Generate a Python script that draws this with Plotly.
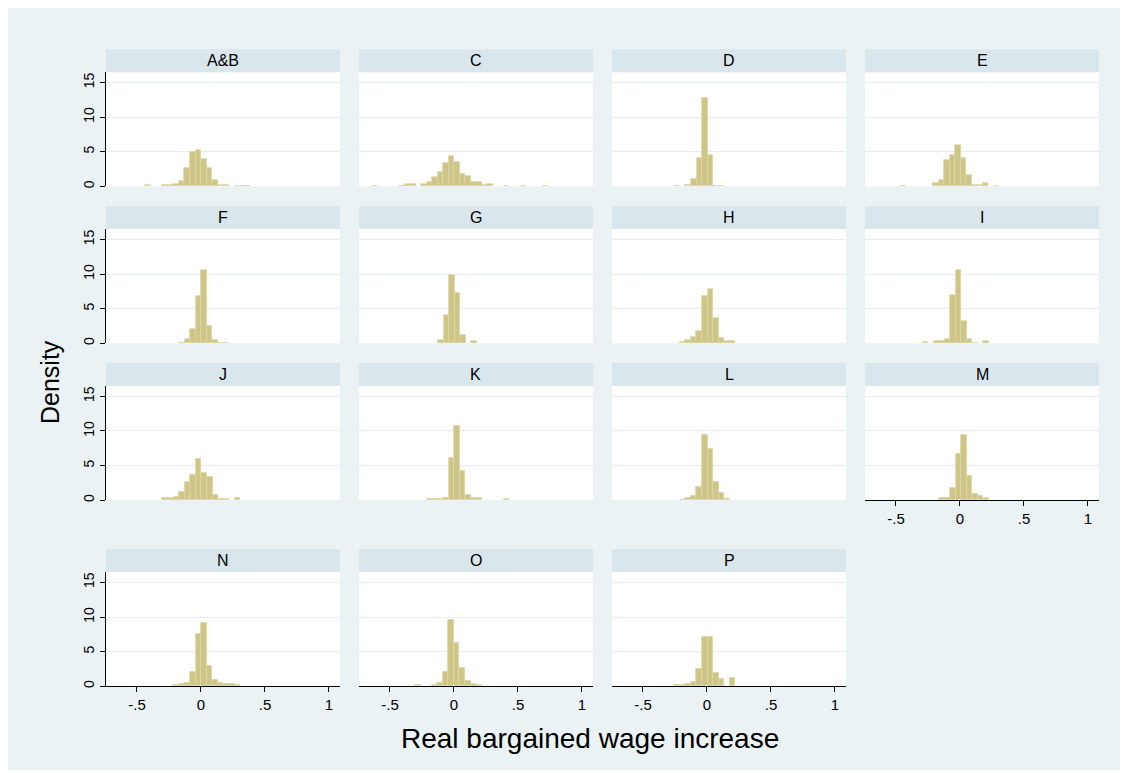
import plotly.graph_objects as go

# ---------------- data ----------------
panel_labels = ["A&B", "C", "D", "E", "F", "G", "H", "I", "J", "K", "L", "M", "N", "O", "P"]

# left edge of first bin and bin width for each panel's histogram
bin_start = [-0.434, -0.642, -0.255, -0.464, -0.172, -0.124, -0.2125, -0.291,
             -0.301, -0.214, -0.2125, -0.1625, -0.216, -0.301, -0.256]
bin_width = [0.0436, 0.043, 0.0435, 0.0427, 0.0435, 0.043, 0.0435, 0.043,
             0.0435, 0.043, 0.0435, 0.043, 0.0435, 0.043, 0.0435]

dens_AB = [0.2, 0, 0, 0.15, 0.15, 0.25, 0.7, 2.6, 5.0, 5.2, 4.0, 2.6, 0.9, 0.2, 0.2, 0, 0.1, 0.1, 0.1]
dens_C = [0.1, 0, 0, 0, 0, 0.1, 0.25, 0.25, 0, 0.25, 0.6, 1.4, 2.0, 3.3, 4.3, 3.5, 1.7, 1.5,
          0.6, 0.6, 0.15, 0.25, 0, 0, 0.1, 0, 0, 0.1, 0, 0, 0, 0.1]
dens_D = [0.1, 0, 0.2, 1.1, 4.1, 12.8, 4.5, 0.05, 0.05]
dens_E = [0.1, 0, 0, 0, 0, 0, 0.5, 0.9, 3.75, 4.5, 5.9, 4.1, 1.6, 0.2, 0.2, 0.4, 0, 0.05]
dens_F = [0.1, 0.6, 2.1, 6.8, 10.6, 2.45, 0.4, 0.1, 0.1]
dens_G = [0.5, 4.1, 9.8, 7.3, 1.15, 0, 0.3]
dens_H = [0.15, 0.4, 0.95, 1.8, 6.8, 7.8, 3.65, 0.75, 0.3, 0.3]
dens_I = [0.15, 0, 0.3, 0.3, 0.6, 7.0, 10.6, 3.2, 0.6, 0.1, 0, 0.35]
dens_J = [0.3, 0.3, 0.5, 1.15, 2.6, 3.6, 5.9, 4.0, 3.3, 0.8, 0.15, 0.15, 0, 0.35]
dens_K = [0.15, 0.15, 0.15, 0.3, 6.1, 10.7, 4.2, 0.8, 0.35, 0.35, 0, 0, 0, 0, 0.15]
dens_L = [0.1, 0.35, 0.65, 1.9, 9.35, 7.4, 2.6, 1.0, 0.15]
dens_M = [0.35, 0.35, 1.7, 6.7, 9.35, 3.55, 0.85, 0.55, 0.35]
dens_N = [0.15, 0.3, 0.5, 2.0, 7.6, 9.1, 2.9, 0.9, 0.4, 0.3, 0.3, 0.2]
dens_O = [0.2, 0, 0, 0.15, 0.4, 2.0, 9.6, 6.3, 2.7, 0.7, 0.3, 0.2]
dens_P = [0.2, 0.2, 0.3, 0.6, 2.5, 7.1, 7.1, 1.9, 1.0, 0, 1.2]

densities = [dens_AB, dens_C, dens_D, dens_E, dens_F, dens_G, dens_H, dens_I,
             dens_J, dens_K, dens_L, dens_M, dens_N, dens_O, dens_P]

x_tick_vals = [-0.5, 0, 0.5, 1]
x_tick_text = ["-.5", "0", ".5", "1"]
y_tick_vals = [0, 5, 10, 15]
y_tick_text = ["0", "5", "10", "15"]

x_title = "Real bargained wage increase"
y_title = "Density"

# ---------------- layout geometry (figure pixels) ----------------
W, H = 1112, 762
col_left = [98, 351, 604, 857]
panel_w = 234
row_top = [64.3, 221.7, 379.0, 565.5]
panel_h = 114.5
strip_h = 23
x_range = [-0.742, 1.086]
y_range = [0, 16.5]

outer_bg = "#EAF2F3"
strip_bg = "#D9E6EB"
grid_col = "#E6EEF0"
bar_fill = "#CEC688"
bar_line = "#DDD6A2"
FONT = "Arial, 'Liberation Sans', sans-serif"

bottom_panels = {11, 12, 13, 14}

fig = go.Figure()
shapes = []
annotations = []

for i, lab in enumerate(panel_labels):
    r, c = i // 4, i % 4
    idx = "" if i == 0 else str(i + 1)
    lo, w = bin_start[i], bin_width[i]
    ys_all = densities[i]
    xs = [lo + w * (k + 0.5) for k, v in enumerate(ys_all) if v > 0]
    ys = [v for v in ys_all if v > 0]
    fig.add_trace(go.Bar(
        x=xs, y=ys, width=w,
        marker=dict(color=bar_fill, line=dict(color=bar_line, width=0.8)),
        xaxis="x" + idx, yaxis="y" + idx, showlegend=False,
        hoverinfo="x+y",
    ))
    x0 = col_left[c] / W
    x1 = (col_left[c] + panel_w) / W
    top = row_top[r]
    y0 = 1 - (top + panel_h) / H
    y1 = 1 - top / H
    is_bottom = i in bottom_panels
    is_left = c == 0
    fig.layout["xaxis" + idx] = dict(
        domain=[x0, x1], range=x_range, anchor="y" + idx,
        showgrid=False, zeroline=False,
        showline=is_bottom, linecolor="black", linewidth=1,
        ticks="outside" if is_bottom else "", ticklen=5, tickcolor="black",
        tickvals=x_tick_vals, ticktext=x_tick_text,
        showticklabels=is_bottom,
        tickfont=dict(family=FONT, size=15, color="black"),
        fixedrange=True,
    )
    fig.layout["yaxis" + idx] = dict(
        domain=[y0, y1], range=y_range, anchor="x" + idx,
        showgrid=True, gridcolor=grid_col, gridwidth=1.2, zeroline=False,
        showline=is_left, linecolor="black", linewidth=1,
        ticks="outside" if is_left else "", ticklen=5, tickcolor="black",
        tickvals=y_tick_vals, ticktext=y_tick_text,
        showticklabels=is_left, tickangle=-90,
        tickfont=dict(family=FONT, size=14, color="black"),
        fixedrange=True,
    )
    # strip header
    shapes.append(dict(
        type="rect", xref="paper", yref="paper",
        x0=x0, x1=x1, y0=y1, y1=1 - (top - strip_h) / H,
        fillcolor=strip_bg, line=dict(width=0), layer="below",
    ))
    annotations.append(dict(
        text=lab, xref="paper", yref="paper",
        x=(x0 + x1) / 2, y=1 - (top - strip_h / 2) / H,
        showarrow=False, xanchor="center", yanchor="middle",
        font=dict(family=FONT, size=16, color="black"),
    ))

annotations.append(dict(
    text=x_title, xref="paper", yref="paper", x=582 / W, y=1 - 732 / H,
    showarrow=False, xanchor="center", yanchor="middle",
    font=dict(family=FONT, size=28, color="black"),
))
annotations.append(dict(
    text=y_title, xref="paper", yref="paper", x=42 / W, y=1 - 375 / H,
    showarrow=False, xanchor="center", yanchor="middle", textangle=-90,
    font=dict(family=FONT, size=25, color="black"),
))

fig.update_layout(
    width=W, height=H,
    margin=dict(l=0, r=0, t=0, b=0),
    paper_bgcolor=outer_bg, plot_bgcolor="white",
    bargap=0, shapes=shapes, annotations=annotations,
    font=dict(family=FONT),
)

fig.write_html("out.html")
